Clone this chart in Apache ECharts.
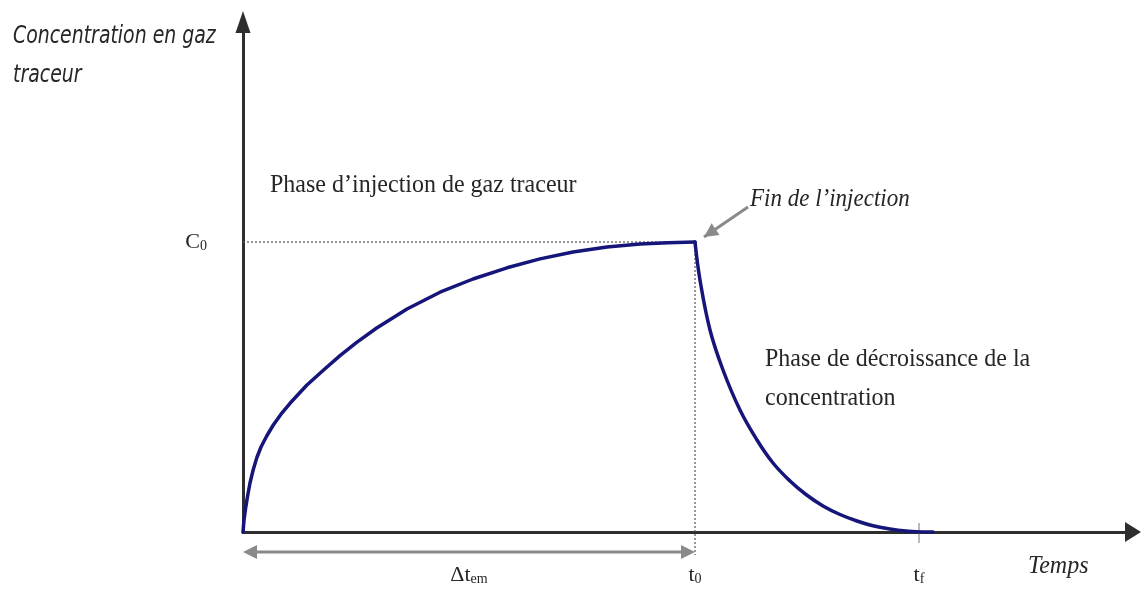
<!DOCTYPE html>
<html>
<head>
<meta charset="utf-8">
<script src="https://cdn.jsdelivr.net/npm/echarts@6/dist/echarts.min.js"></script>
<style>
  html, body { margin: 0; padding: 0; background: #fff; }
  #chart { width: 1146px; height: 591px; }
</style>
</head>
<body>
<div id="chart"></div>
<script>
// Time (arbitrary units) and tracer-gas concentration (arbitrary units)
const riseT  = [0, 0.1, 0.25, 0.45, 0.7, 1.0, 1.37, 1.8, 2.37, 3.03, 3.8, 4.7, 6.37, 8.03, 9.7, 11.37, 13.37,
                16.4, 19.7, 23.0, 26.4, 29.7, 33.0, 36.4, 39.7, 42.5, 45.2];
const riseC  = [0, 1.2, 2.3, 3.55, 4.9, 6.15, 7.4, 8.5, 9.6, 10.7, 11.78, 12.87, 14.67, 16.17, 17.64, 18.97, 20.4,
                22.3, 23.98, 25.3, 26.42, 27.31, 28.0, 28.51, 28.81, 28.93, 29.0];
const decayT = [45.2, 45.7, 46.7, 48.0, 49.7, 51.4, 53.0, 54.7, 56.3, 58.0, 59.7, 61.4, 63.0, 64.7, 66.3, 68.0, 69.0];
const decayC = [29.0, 25.2, 20.2, 16.2, 12.2, 9.2, 6.9, 5.1, 3.75, 2.6, 1.75, 1.1, 0.62, 0.3, 0.1, 0.0, 0.0];

// Key instants and levels
const C0 = 29.0;     // plateau concentration
const t0 = 45.2;     // end of injection
const tf = 67.6;     // end of decay
const tMax = 89, cMax = 51;
const spanLevel = -2.0;   // height of the Δt_em span arrow (below the time axis)
const t0LineBottom = -2.3;
const finTail = [50.5, 32.5], finTip = [46.1, 29.5]; // pointer to end of injection

const serif = '"Liberation Serif", "DejaVu Serif", serif';
const textColor = '#262626';
const curveColor = '#15157a';
const greyArrow = '#8a8a8a';

function pairs(xs, ys) { return xs.map((x, i) => [x, ys[i]]); }

function arrowHead(tip, from, len, half, color) {
  const dx = tip[0] - from[0], dy = tip[1] - from[1];
  const d = Math.hypot(dx, dy) || 1;
  const ux = dx / d, uy = dy / d;
  const bx = tip[0] - ux * len, by = tip[1] - uy * len;
  return {
    type: 'polygon',
    shape: { points: [tip, [bx - uy * half, by + ux * half], [bx + uy * half, by - ux * half]] },
    style: { fill: color }
  };
}

const chart = echarts.init(document.getElementById('chart'), null, { renderer: 'canvas' });

const option = {
  backgroundColor: '#fff',
  animation: false,
  grid: { left: 243, right: 13, top: 22, bottom: 59 },
  xAxis: {
    type: 'value', min: 0, max: tMax,
    splitLine: { show: false }, axisTick: { show: false },
    axisLine: { onZero: false, symbol: ['none', 'triangle'], symbolSize: [20, 16],
      lineStyle: { color: '#2e2e2e', width: 3 } },
    axisLabel: {
      customValues: [t0 / 2, t0, tf],
      margin: 32,
      color: textColor, fontFamily: serif,
      formatter: function (v) {
        if (Math.abs(v - t0) < 1e-6) return '{m|t}{s|0}';
        if (Math.abs(v - tf) < 1e-6) return '{m|t}{s|f}';
        return '{m|Δt}{s|em}';
      },
      rich: {
        m: { fontSize: 22, fontFamily: serif, color: textColor },
        s: { fontSize: 14, fontFamily: serif, color: textColor, verticalAlign: 'bottom', padding: [6, 0, 0, 0] }
      }
    }
  },
  yAxis: {
    type: 'value', min: 0, max: cMax,
    splitLine: { show: false }, axisTick: { show: false },
    axisLine: { symbol: ['none', 'triangle'], symbolSize: [15, 22],
      lineStyle: { color: '#2e2e2e', width: 3 } },
    axisLabel: {
      customValues: [C0],
      margin: 36,
      formatter: () => '{m|C}{s|0}',
      rich: {
        m: { fontSize: 22, fontFamily: serif, color: textColor },
        s: { fontSize: 14, fontFamily: serif, color: textColor, verticalAlign: 'bottom', padding: [6, 0, 0, 0] }
      }
    }
  },
  series: [
    {
      name: 'injection', type: 'line', data: pairs(riseT, riseC),
      smooth: false, showSymbol: false, z: 5,
      lineStyle: { color: curveColor, width: 3.5, join: 'round', cap: 'round' }
    },
    {
      name: 'décroissance', type: 'line', data: pairs(decayT, decayC),
      smooth: 0.4, showSymbol: false, z: 5,
      lineStyle: { color: curveColor, width: 3.5, join: 'round', cap: 'round' }
    },
    {
      // guides: C0 level, t0 line, Δt_em span, tf tick and end-of-injection pointer
      type: 'custom', data: [[0, 0]], z: 3, silent: true,
      renderItem: function (params, api) {
        const pC0a = api.coord([0, C0]), pC0b = api.coord([t0, C0]);
        const pT0a = api.coord([t0, C0]), pT0b = api.coord([t0, t0LineBottom]);
        const sA = api.coord([0, spanLevel]), sB = api.coord([t0, spanLevel]);
        const tfA = api.coord([tf, 0.9]), tfB = api.coord([tf, -1.1]);
        const fTail = api.coord(finTail), fTip = api.coord(finTip);
        const head = 14;
        const dotted = { stroke: '#555', lineWidth: 1.2, lineDash: [2, 2] };
        return {
          type: 'group',
          children: [
            { type: 'line', shape: { x1: pC0a[0], y1: pC0a[1], x2: pC0b[0], y2: pC0b[1] }, style: dotted },
            { type: 'line', shape: { x1: pT0a[0], y1: pT0a[1], x2: pT0b[0], y2: pT0b[1] }, style: dotted },
            { type: 'line', shape: { x1: sA[0] + head, y1: sA[1], x2: sB[0] - head, y2: sB[1] },
              style: { stroke: greyArrow, lineWidth: 3 } },
            arrowHead(sA, sB, head, 7, greyArrow),
            arrowHead(sB, sA, head, 7, greyArrow),
            { type: 'line', shape: { x1: tfA[0], y1: tfA[1], x2: tfB[0], y2: tfB[1] },
              style: { stroke: '#777', lineWidth: 1 } },
            { type: 'line', shape: { x1: fTail[0], y1: fTail[1], x2: fTip[0], y2: fTip[1] },
              style: { stroke: greyArrow, lineWidth: 3 } },
            arrowHead(fTip, fTail, 14, 7, greyArrow)
          ]
        };
      }
    }
  ],
  graphic: [
    { type: 'text', left: 13, top: 17, scaleY: 1.15, style: {
        text: 'Concentration en gaz\ntraceur', fill: textColor, lineHeight: 34,
        font: 'italic 21px "DejaVu Sans Condensed", "DejaVu Sans", sans-serif' } },
    { type: 'text', left: 270, top: 172, scaleY: 1.08, style: {
        text: 'Phase d\u2019injection de gaz traceur', fill: textColor,
        font: '24px ' + serif } },
    { type: 'text', left: 750, top: 187, scaleY: 1.08, style: {
        text: 'Fin de l\u2019injection', fill: textColor,
        font: 'italic 23px ' + serif } },
    { type: 'text', left: 765, top: 340, scaleY: 1.08, style: {
        text: 'Phase de décroissance de la\nconcentration', fill: textColor, lineHeight: 36,
        font: '24px ' + serif } },
    { type: 'text', left: 1028, top: 553, scaleY: 1.08, style: {
        text: 'Temps', fill: textColor,
        font: 'italic 24px ' + serif } }
  ]
};

chart.setOption(option);
</script>
</body>
</html>
